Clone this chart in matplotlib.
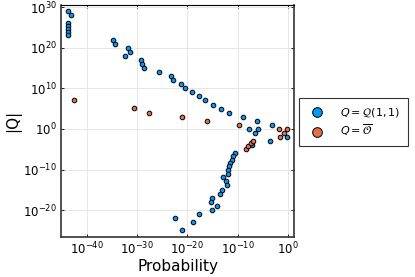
import numpy as np
import matplotlib
matplotlib.use("Agg")
import matplotlib.pyplot as plt
from matplotlib.ticker import FixedLocator, LogFormatterMathtext, NullLocator

# log10 of probability / |Q|
blue_logp = [-43.8, -43.3, -43.8, -43.8, -43.8, -43.8, -43.8,
             -34.9, -34.5, -31.9, -31.5, -32.4, -29.2, -29.0, -28.6, -25.6,
             -23.2, -22.8, -21.3, -20.5, -19.1, -17.7, -16.4, -14.9, -13.3,
             -11.75, -8.84, -6.18, -7.65, -5.86, -6.57, -3.13, -3.59, -0.08,
             -7.21,
             -10.5, -10.84, -11.16, -11.49, -11.69, -11.83, -11.83, -12.83,
             -12.35, -12.03, -13.09, -13.43, -15.02, -15.22, -14.14, -15.02,
             -17.67, -18.8, -22.5, -21.0]
blue_logq = [28.97, 28.0, 26.1, 25.3, 24.6, 23.8, 23.0,
             22.0, 21.0, 19.95, 18.97, 18.0, 17.07, 16.0, 15.0, 14.0,
             12.96, 11.97, 10.99, 10.0, 9.01, 8.03, 7.04, 5.99, 5.0,
             4.01, 3.03, 2.04, 0.07, 0.07, -0.99, 1.06, -2.88, -1.9,
             -3.99,
             -5.91, -6.75, -7.56, -8.37, -9.21, -10.02, -11.0, -11.92,
             -12.9, -13.89, -14.95, -15.94, -17.0, -17.98, -18.97, -19.95,
             -20.94, -22.9, -21.9, -24.9]

orange_logp = [-42.6, -30.6, -27.6, -21.0, -16.1, -9.64,
               -8.3, -7.85, -7.37, -6.97,
               -1.79, -0.2, -0.68, -1.47]
orange_logq = [7.04, 5.07, 4.01, 3.03, 2.04, 1.06,
               -4.85, -4.11, -3.45, -2.88,
               0.07, 0.07, -0.99, -1.9]

xtick_exps = [-40, -30, -20, -10, 0]
ytick_exps = [-20, -10, 0, 10, 20, 30]

labels = [r"$Q = \mathcal{Q}(1,1)$", r"$Q = \overline{\mathcal{O}}$"]
colors = ["#009AFA", "#E36F47"]

fig = plt.figure(figsize=(4.15, 2.77), dpi=100)
ax = fig.add_axes([61/415, 1-237/277, (294-61)/415, (237-5)/277])

bx = 10.0 ** np.array(blue_logp)
by = 10.0 ** np.array(blue_logq)
ox = 10.0 ** np.array(orange_logp)
oy = 10.0 ** np.array(orange_logq)

ax.scatter(bx, by, s=11, c=colors[0], edgecolors="black", linewidths=0.7,
           label=labels[0], zorder=3)
ax.scatter(ox, oy, s=11, c=colors[1], edgecolors="black", linewidths=0.7,
           label=labels[1], zorder=3)

ax.set_xscale("log")
ax.set_yscale("log")
ax.set_xlim(10**-45.2, 10**1.25)
ax.set_ylim(10**-26.6, 10**30.5)

ax.xaxis.set_major_locator(FixedLocator([10.0**e for e in xtick_exps]))
ax.yaxis.set_major_locator(FixedLocator([10.0**e for e in ytick_exps]))
ax.xaxis.set_major_formatter(LogFormatterMathtext())
ax.yaxis.set_major_formatter(LogFormatterMathtext())
ax.xaxis.set_minor_locator(NullLocator())
ax.yaxis.set_minor_locator(NullLocator())

ax.grid(True, color="#e6e6e6", linewidth=0.7, zorder=0)
ax.tick_params(axis="both", which="major", direction="in", length=2.5,
               width=0.6, labelsize=8.5, colors="black", top=True, right=True,
               pad=3)
for side, sp in ax.spines.items():
    sp.set_color("#333333" if side in ("left", "bottom", "right") else "black")
    sp.set_linewidth(1.2 if side in ("left", "bottom", "right") else 0.8)

ax.set_xlabel("Probability", fontsize=11, labelpad=1)
ax.set_ylabel("|Q|", fontsize=11, labelpad=1)

leg = fig.legend(handles=ax.collections, labels=labels,
                 loc="upper left", bbox_to_anchor=(299/415, 1-98/277),
                 borderaxespad=0.0,
                 fontsize=8, markerscale=2.1, frameon=True, fancybox=False,
                 edgecolor="black", borderpad=0.7, handletextpad=1.2,
                 handlelength=1.8, labelspacing=0.35)
leg.get_frame().set_linewidth(0.8)

fig.savefig("out.png", dpi=100)
